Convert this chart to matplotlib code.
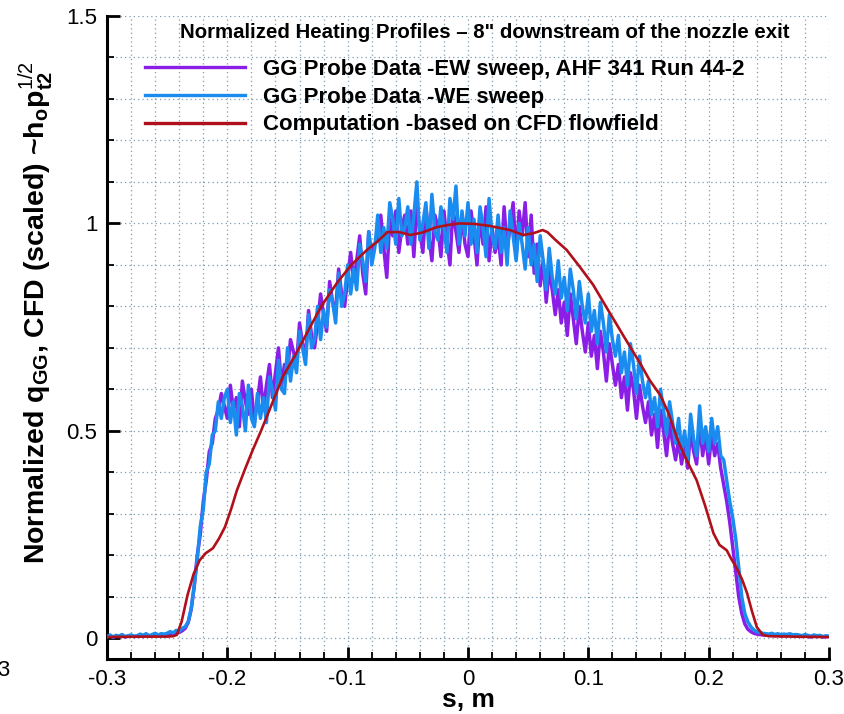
import numpy as np
import matplotlib.pyplot as plt
from matplotlib.ticker import MultipleLocator, FormatStrFormatter
from matplotlib.lines import Line2D

plt.rcParams['font.family'] = ['Liberation Sans', 'DejaVu Sans']
plt.rcParams['axes.unicode_minus'] = False
plt.rcParams['mathtext.fontset'] = 'custom'
plt.rcParams['mathtext.rm'] = 'Liberation Sans'
plt.rcParams['mathtext.bf'] = 'Liberation Sans:bold'

# probe sweep positions, s [m] (one sample every 2.5 mm)
s_probe = np.round(np.arange(-0.3, 0.30001, 0.0025), 4)

# GG probe, EW sweep (AHF 341 Run 44-2)
q_ew = [
    0.003, 0.006, 0.002, 0.005, 0.004, 0.007, 0.003, 0.005, 0.006, 0.004,
    0.005, 0.007, 0.004, 0.008, 0.006, 0.005, 0.009, 0.006, 0.008, 0.007,
    0.008, 0.010, 0.009, 0.012, 0.014, 0.018, 0.024, 0.038, 0.070, 0.125,
    0.20, 0.25, 0.33, 0.38, 0.45, 0.47, 0.53, 0.55, 0.59, 0.56,
    0.53, 0.61, 0.55, 0.58, 0.51, 0.62, 0.57, 0.54, 0.60, 0.52,
    0.57, 0.63, 0.55, 0.61, 0.66, 0.58, 0.64, 0.70, 0.61, 0.66,
    0.64, 0.72, 0.69, 0.66, 0.76, 0.71, 0.68, 0.79, 0.73, 0.70,
    0.76, 0.83, 0.78, 0.74, 0.86, 0.81, 0.79, 0.89, 0.83, 0.80,
    0.87, 0.93, 0.86, 0.91, 0.97, 0.88, 0.83, 0.98, 0.92, 0.95,
    0.96, 1.02, 0.94, 0.87, 1.01, 0.97, 1.03, 0.93, 0.99, 1.02,
    0.95, 1.03, 0.92, 1.05, 0.98, 0.93, 1.04, 0.97, 0.91, 1.02,
    0.99, 0.92, 1.03, 0.96, 0.90, 1.04, 0.98, 0.93, 1.02, 0.95,
    0.92, 1.03, 0.97, 0.90, 1.02, 0.95, 1.04, 0.91, 0.99, 0.93,
    0.97, 0.90, 1.04, 0.94, 0.99, 1.05, 0.92, 1.03, 0.97, 1.05,
    0.92, 1.02, 0.88, 0.95, 0.85, 0.91, 0.81, 0.89, 0.84, 0.78,
    0.84, 0.76, 0.81, 0.73, 0.83, 0.77, 0.71, 0.80, 0.74, 0.69,
    0.76, 0.68, 0.73, 0.65, 0.74, 0.69, 0.62, 0.71, 0.66, 0.61,
    0.66, 0.58, 0.63, 0.55, 0.64, 0.60, 0.53, 0.61, 0.56, 0.52,
    0.57, 0.49, 0.54, 0.46, 0.55, 0.50, 0.44, 0.52, 0.47, 0.43,
    0.48, 0.42, 0.47, 0.41, 0.50, 0.45, 0.42, 0.52, 0.44, 0.49,
    0.42, 0.49, 0.44, 0.47, 0.41, 0.37, 0.33, 0.28, 0.22, 0.16,
    0.10, 0.06, 0.035, 0.022, 0.016, 0.012, 0.010, 0.009, 0.008, 0.008,
    0.007, 0.009, 0.006, 0.008, 0.005, 0.007, 0.006, 0.008, 0.005, 0.006,
    0.005, 0.004, 0.006, 0.004, 0.003, 0.005, 0.004, 0.005, 0.003, 0.004,
    0.004,
]

# GG probe, WE sweep
q_we = [
    0.004, 0.008, 0.003, 0.007, 0.005, 0.009, 0.004, 0.006, 0.008, 0.005,
    0.006, 0.010, 0.007, 0.011, 0.006, 0.009, 0.012, 0.008, 0.011, 0.010,
    0.012, 0.016, 0.013, 0.019, 0.017, 0.024, 0.028, 0.040, 0.072, 0.128,
    0.19, 0.27, 0.31, 0.40, 0.42, 0.49, 0.50, 0.57, 0.53, 0.58,
    0.60, 0.52, 0.57, 0.49, 0.59, 0.56, 0.50, 0.61, 0.53, 0.51,
    0.59, 0.53, 0.58, 0.52, 0.63, 0.60, 0.55, 0.67, 0.60, 0.59,
    0.70, 0.62, 0.68, 0.64, 0.74, 0.70, 0.66, 0.78, 0.70, 0.72,
    0.80, 0.72, 0.79, 0.75, 0.84, 0.81, 0.76, 0.88, 0.80, 0.83,
    0.90, 0.83, 0.89, 0.84, 0.95, 0.91, 0.86, 0.98, 0.90, 0.94,
    1.02, 0.93, 0.99, 0.94, 1.05, 1.01, 0.95, 1.06, 0.97, 0.99,
    1.04, 0.95, 1.02, 1.10, 0.96, 1.00, 1.05, 0.94, 1.07, 0.98,
    0.96, 1.04, 0.99, 0.93, 1.06, 1.01, 1.09, 0.95, 1.03, 0.97,
    1.05, 0.95, 1.01, 0.93, 1.04, 0.99, 0.92, 1.06, 0.97, 0.94,
    1.02, 0.93, 0.99, 0.90, 1.03, 0.97, 0.91, 1.00, 0.95, 0.89,
    0.99, 0.90, 0.95, 0.86, 0.97, 0.91, 0.84, 0.94, 0.87, 0.83,
    0.91, 0.82, 0.87, 0.79, 0.89, 0.84, 0.77, 0.86, 0.80, 0.76,
    0.83, 0.74, 0.79, 0.71, 0.81, 0.76, 0.69, 0.78, 0.72, 0.68,
    0.73, 0.64, 0.69, 0.61, 0.71, 0.66, 0.59, 0.68, 0.62, 0.58,
    0.62, 0.54, 0.58, 0.51, 0.60, 0.55, 0.49, 0.57, 0.52, 0.47,
    0.53, 0.45, 0.50, 0.43, 0.54, 0.48, 0.44, 0.56, 0.47, 0.51,
    0.45, 0.53, 0.47, 0.51, 0.44, 0.43, 0.38, 0.33, 0.29, 0.24,
    0.17, 0.10, 0.06, 0.04, 0.028, 0.020, 0.016, 0.014, 0.012, 0.011,
    0.010, 0.012, 0.009, 0.011, 0.008, 0.010, 0.009, 0.011, 0.008, 0.009,
    0.008, 0.006, 0.009, 0.007, 0.005, 0.008, 0.006, 0.007, 0.004, 0.006,
    0.005,
]

# computation based on CFD flowfield
s_cfd = [-0.30, -0.27, -0.25, -0.245, -0.242, -0.238, -0.233, -0.228, -0.223, -0.218,
         -0.212, -0.207, -0.202, -0.197, -0.192, -0.185, -0.179, -0.172, -0.165, -0.154,
         -0.144, -0.134, -0.122, -0.109, -0.097, -0.084, -0.075, -0.067, -0.057, -0.048,
         -0.038, -0.026, -0.015, -0.007, 0.005, 0.018, 0.028, 0.035, 0.046, 0.055,
         0.062, 0.066, 0.072, 0.082, 0.093, 0.104, 0.115, 0.129, 0.143, 0.151,
         0.160, 0.167, 0.174, 0.179, 0.185, 0.190, 0.197, 0.204, 0.209, 0.215,
         0.219, 0.223, 0.228, 0.232, 0.236, 0.240, 0.245, 0.250, 0.270, 0.300]
q_cfd = [0.003, 0.004, 0.004, 0.005, 0.008, 0.040, 0.105, 0.155, 0.188, 0.205,
         0.217, 0.240, 0.268, 0.310, 0.357, 0.410, 0.453, 0.500, 0.550, 0.630,
         0.680, 0.735, 0.800, 0.856, 0.900, 0.936, 0.957, 0.979, 0.979, 0.972,
         0.978, 0.991, 0.997, 1.000, 0.999, 0.994, 0.988, 0.984, 0.972, 0.977,
         0.984, 0.979, 0.962, 0.936, 0.895, 0.852, 0.798, 0.730, 0.663, 0.622,
         0.585, 0.540, 0.480, 0.446, 0.410, 0.381, 0.320, 0.253, 0.225, 0.212,
         0.190, 0.171, 0.140, 0.108, 0.065, 0.027, 0.008, 0.005, 0.004, 0.003]

c_ew = '#8a1ee6'
c_we = '#1a8cf0'
c_cfd = '#b0101a'

fig = plt.figure(figsize=(8.45, 7.14), dpi=100)
ax = fig.add_axes([107/845, 1 - 659/714, 722/845, 643/714])

ax.plot(s_probe, q_ew, color=c_ew, lw=2.5, zorder=3)
ax.plot(s_probe, q_we, color=c_we, lw=2.5, zorder=4)
ax.plot(s_cfd, q_cfd, color=c_cfd, lw=1.9, zorder=5)

ax.set_xlim(-0.3, 0.3)
ax.set_ylim(-0.05, 1.5)
ax.xaxis.set_major_locator(MultipleLocator(0.1))
ax.xaxis.set_minor_locator(MultipleLocator(0.02))
ax.yaxis.set_major_locator(MultipleLocator(0.5))
ax.yaxis.set_minor_locator(MultipleLocator(0.1))
ax.xaxis.set_major_formatter(FormatStrFormatter('%g'))
ax.yaxis.set_major_formatter(FormatStrFormatter('%g'))

ax.grid(which='both', color='#7d9cb0', lw=0.9, ls=(0, (1, 2.5)))
ax.set_axisbelow(True)
for side in ['top', 'right']:
    ax.spines[side].set_visible(False)
for side in ['left', 'bottom']:
    ax.spines[side].set_linewidth(2.2)
ax.tick_params(which='major', direction='in', length=9, width=2, labelsize=16, pad=7)
ax.tick_params(which='minor', direction='in', length=5, width=1.3)

ax.set_xlabel('s, m', fontsize=19, fontweight='bold', labelpad=-1)
ax.set_ylabel(r'Normalized q$_{\mathbf{GG}}$, CFD (scaled) ~h$_{\mathbf{o}}$p$_{\mathbf{t2}}^{\mathrm{1/2}}$',
              fontsize=20.5, fontweight='bold')
ax.yaxis.set_label_coords(-0.07, 0.538)

fig.text(485/845, 1 - 32/714, 'Normalized Heating Profiles \u2013 8" downstream of the nozzle exit',
         ha='center', va='center', fontsize=14.7, fontweight='bold')

handles = [Line2D([], [], color=c_ew, lw=2.4),
           Line2D([], [], color=c_we, lw=2.4),
           Line2D([], [], color=c_cfd, lw=2.4)]
labels = ['GG Probe Data -EW sweep, AHF 341 Run 44-2',
          'GG Probe Data -WE sweep',
          'Computation -based on CFD flowfield']
ax.legend(handles, labels, loc='upper left', bbox_to_anchor=(145/845, 1 - 59/714),
          bbox_transform=fig.transFigure, frameon=False, borderpad=0, borderaxespad=0,
          handlelength=4.5, handletextpad=0.8, labelspacing=0.3,
          prop={'size': 16, 'weight': 'bold'})

# clipped tick label left over at the lower left edge of the picture
fig.text(10/845, 1 - 670/714, '-0.3', ha='right', va='center', fontsize=16)

fig.savefig('out.png', dpi=100)
